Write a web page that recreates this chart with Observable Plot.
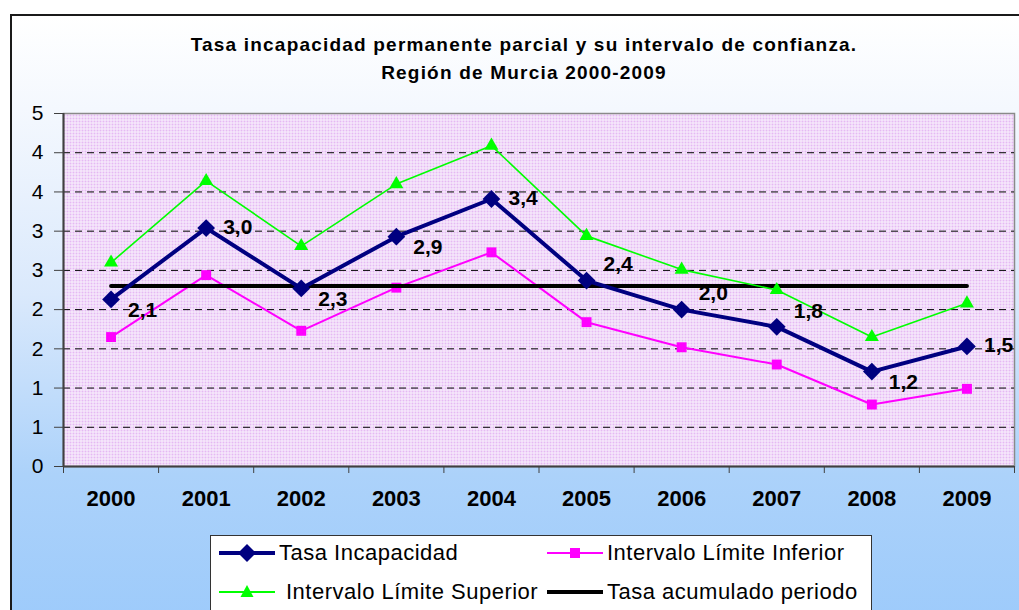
<!DOCTYPE html>
<html>
<head>
<meta charset="utf-8">
<script src="https://cdn.jsdelivr.net/npm/d3@7"></script>
<script src="https://cdn.jsdelivr.net/npm/@observablehq/plot@0.6"></script>
<style>
  body { margin: 0; background: #fff; }
  #wrap { position: relative; width: 1019px; height: 610px; overflow: hidden; background: #fff;
          font-family: Arial, "Liberation Sans", sans-serif; }
  #panel { position: absolute; left: 10px; top: 14px; width: 1030px; height: 620px;
           border: 2px solid #1a1a1a;
           background: linear-gradient(to bottom, #ffffff 0%, #f4f8fe 15%, #dae9fc 45%, #acd2fa 74%, #9ccafb 100%); }
  #title { position: absolute; left: 24px; width: 1000px; top: 31px; text-align: center;
           font-weight: bold; font-size: 19px; letter-spacing: 1.2px; line-height: 28px; color: #000; }
  #chart { position: absolute; left: 0; top: 0; }
  #legend { position: absolute; left: 210px; top: 535px; width: 660px; height: 90px;
            border: 1px solid #333; background: #fff; }
  .item { position: absolute; height: 30px; display: flex; align-items: center;
          font-size: 22px; letter-spacing: 0.5px; color: #000; white-space: nowrap; }
  .item svg { margin-right: 4px; }
</style>
</head>
<body>
<div id="wrap">
  <div id="panel"></div>
  <div id="title"></div>
  <div id="chart"></div>
  <div id="legend"></div>
</div>
<script>
// ---- Data ----
const years = [2000, 2001, 2002, 2003, 2004, 2005, 2006, 2007, 2008, 2009];
const tasaIncapacidad = [2.13, 3.04, 2.27, 2.93, 3.41, 2.37, 2.00, 1.78, 1.21, 1.53];
const limiteInferior = [1.65, 2.44, 1.73, 2.28, 2.73, 1.84, 1.52, 1.30, 0.79, 0.99];
const limiteSuperior = [2.60, 3.64, 2.81, 3.60, 4.09, 2.94, 2.51, 2.25, 1.65, 2.08];
const tasaAcumulado = 2.30;
const yTicks = [0, 0.5, 1, 1.5, 2, 2.5, 3, 3.5, 4, 4.5];
const yTickLabels = ["0", "1", "1", "2", "2", "3", "3", "4", "4", "5"];
const titleLines = ["Tasa incapacidad permanente parcial y su intervalo de confianza.", "Región de Murcia 2000-2009"];
const seriesNames = ["Tasa Incapacidad", "Intervalo Límite Inferior", "Intervalo Límite Superior", "Tasa acumulado periodo"];

// ---- Derived tables ----
const rows = years.map((year, i) => ({
  year, tasa: tasaIncapacidad[i], inf: limiteInferior[i], sup: limiteSuperior[i], acum: tasaAcumulado
}));
const xDomain = [years[0] - 0.5, years[years.length - 1] + 0.5];
const xBoundaries = years.map(y => y - 0.5).concat([xDomain[1]]);
const fmt = v => v.toFixed(1).replace(".", ",");

// label placement groups (style)
const above = new Set([2005, 2006, 2007]);
const below = new Set([2000, 2002, 2003, 2008]);

const C_TASA = "#000080", C_INF = "#FF00FF", C_SUP = "#00FF00", C_ACUM = "#000000";

document.getElementById("title").innerHTML = titleLines.map(t => `<div>${t}</div>`).join("");

const labelStyle = { fontSize: 21, fontWeight: "bold", fill: "#000", textAnchor: "start", letterSpacing: 1 };

const chart = Plot.plot({
  width: 1019,
  height: 610,
  marginLeft: 63,
  marginRight: 5,
  marginTop: 113,
  marginBottom: 144,
  style: { background: "transparent", fontFamily: "Arial, 'Liberation Sans', sans-serif", overflow: "visible" },
  x: { type: "linear", domain: xDomain },
  y: { type: "linear", domain: [0, 4.5] },
  marks: [
    Plot.frame({ fill: "url(#dots)", stroke: "#8a8a8a", strokeWidth: 1.5 }),
    Plot.ruleY(yTicks.filter(t => t > 0 && t < 4.5), { stroke: "#000", strokeWidth: 1, strokeDasharray: "7,5" }),
    Plot.axisY({ ticks: yTicks, tickSize: 9, tickPadding: 11, fontSize: 21, label: null,
                 tickFormat: d => yTickLabels[yTicks.indexOf(d)], stroke: "#404040", fill: "#000" }),
    Plot.axisX({ ticks: xBoundaries, tickSize: 7, tickFormat: () => "", label: null, stroke: "#404040" }),
    Plot.axisX({ ticks: years, tickSize: 0, tickPadding: 24, tickFormat: d => String(d), label: null,
                 fontSize: 22, fontWeight: "bold", letterSpacing: 0.6, fill: "#000" }),
    Plot.ruleX([xDomain[0]], { stroke: "#404040", strokeWidth: 2 }),
    Plot.ruleY([0], { stroke: "#404040", strokeWidth: 2 }),
    // Límite inferior
    Plot.line(rows, { x: "year", y: "inf", stroke: C_INF, strokeWidth: 2 }),
    Plot.dot(rows, { x: "year", y: "inf", symbol: "square", r: 5.6, fill: C_INF, stroke: "none" }),
    // Tasa acumulado
    Plot.line(rows, { x: "year", y: "acum", stroke: C_ACUM, strokeWidth: 4 }),
    // Límite superior
    Plot.line(rows, { x: "year", y: "sup", stroke: C_SUP, strokeWidth: 1.6 }),
    Plot.dot(rows, { x: "year", y: "sup", symbol: "triangle", r: 5.2, fill: C_SUP, stroke: "none" }),
    // Tasa incapacidad
    Plot.line(rows, { x: "year", y: "tasa", stroke: C_TASA, strokeWidth: 4 }),
    Plot.dot(rows, { x: "year", y: "tasa", symbol: "diamond2", r: 8, fill: C_TASA, stroke: "none" }),
    // Data labels
    Plot.text(rows, { filter: d => above.has(d.year), x: "year", y: "tasa", text: d => fmt(d.tasa), dx: 17, dy: -16, ...labelStyle }),
    Plot.text(rows, { filter: d => below.has(d.year), x: "year", y: "tasa", text: d => fmt(d.tasa), dx: 17, dy: 11, ...labelStyle }),
    Plot.text(rows, { filter: d => !above.has(d.year) && !below.has(d.year), x: "year", y: "tasa", text: d => fmt(d.tasa), dx: 17, dy: -1, ...labelStyle })
  ]
});

d3.select(chart).insert("defs", ":first-child").html(
  `<pattern id="dots" width="3" height="3" patternUnits="userSpaceOnUse">
     <rect width="3" height="3" fill="#f9f2fc"></rect>
     <rect width="2" height="2" fill="#e8c0f5"></rect>
     <rect x="0.5" y="0.5" width="1" height="1" fill="#dca6f0"></rect>
   </pattern>`
);
document.getElementById("chart").appendChild(chart);

// ---- Legend (HTML) ----
function sample(kind, color, width) {
  const w = 56, h = 24, cy = 12;
  let marker = "";
  if (kind === "diamond") marker = `<path d="M28,${cy-9}L37,${cy}L28,${cy+9}L19,${cy}Z" fill="${color}"/>`;
  if (kind === "square") marker = `<rect x="23" y="${cy-5}" width="10" height="10" fill="${color}"/>`;
  if (kind === "triangle") marker = `<path d="M28,${cy-7}L34.5,${cy+5}L21.5,${cy+5}Z" fill="${color}"/>`;
  return `<svg width="${w}" height="${h}"><line x1="0" x2="${w}" y1="${cy}" y2="${cy}" stroke="${color}" stroke-width="${width}"/>${marker}</svg>`;
}
const legendItems = [
  { name: seriesNames[0], kind: "diamond", color: C_TASA, width: 4, left: 8, top: 2 },
  { name: seriesNames[1], kind: "square", color: C_INF, width: 2, left: 336, top: 2 },
  { name: seriesNames[2], kind: "triangle", color: C_SUP, width: 2, left: 8, top: 41, gap: 7 },
  { name: seriesNames[3], kind: "none", color: C_ACUM, width: 4, left: 336, top: 41 }
];
document.getElementById("legend").innerHTML = legendItems.map(it =>
  `<div class="item" style="left:${it.left}px;top:${it.top}px">${sample(it.kind, it.color, it.width)}<span style="margin-left:${it.gap || 0}px">${it.name}</span></div>`
).join("");
</script>
</body>
</html>
